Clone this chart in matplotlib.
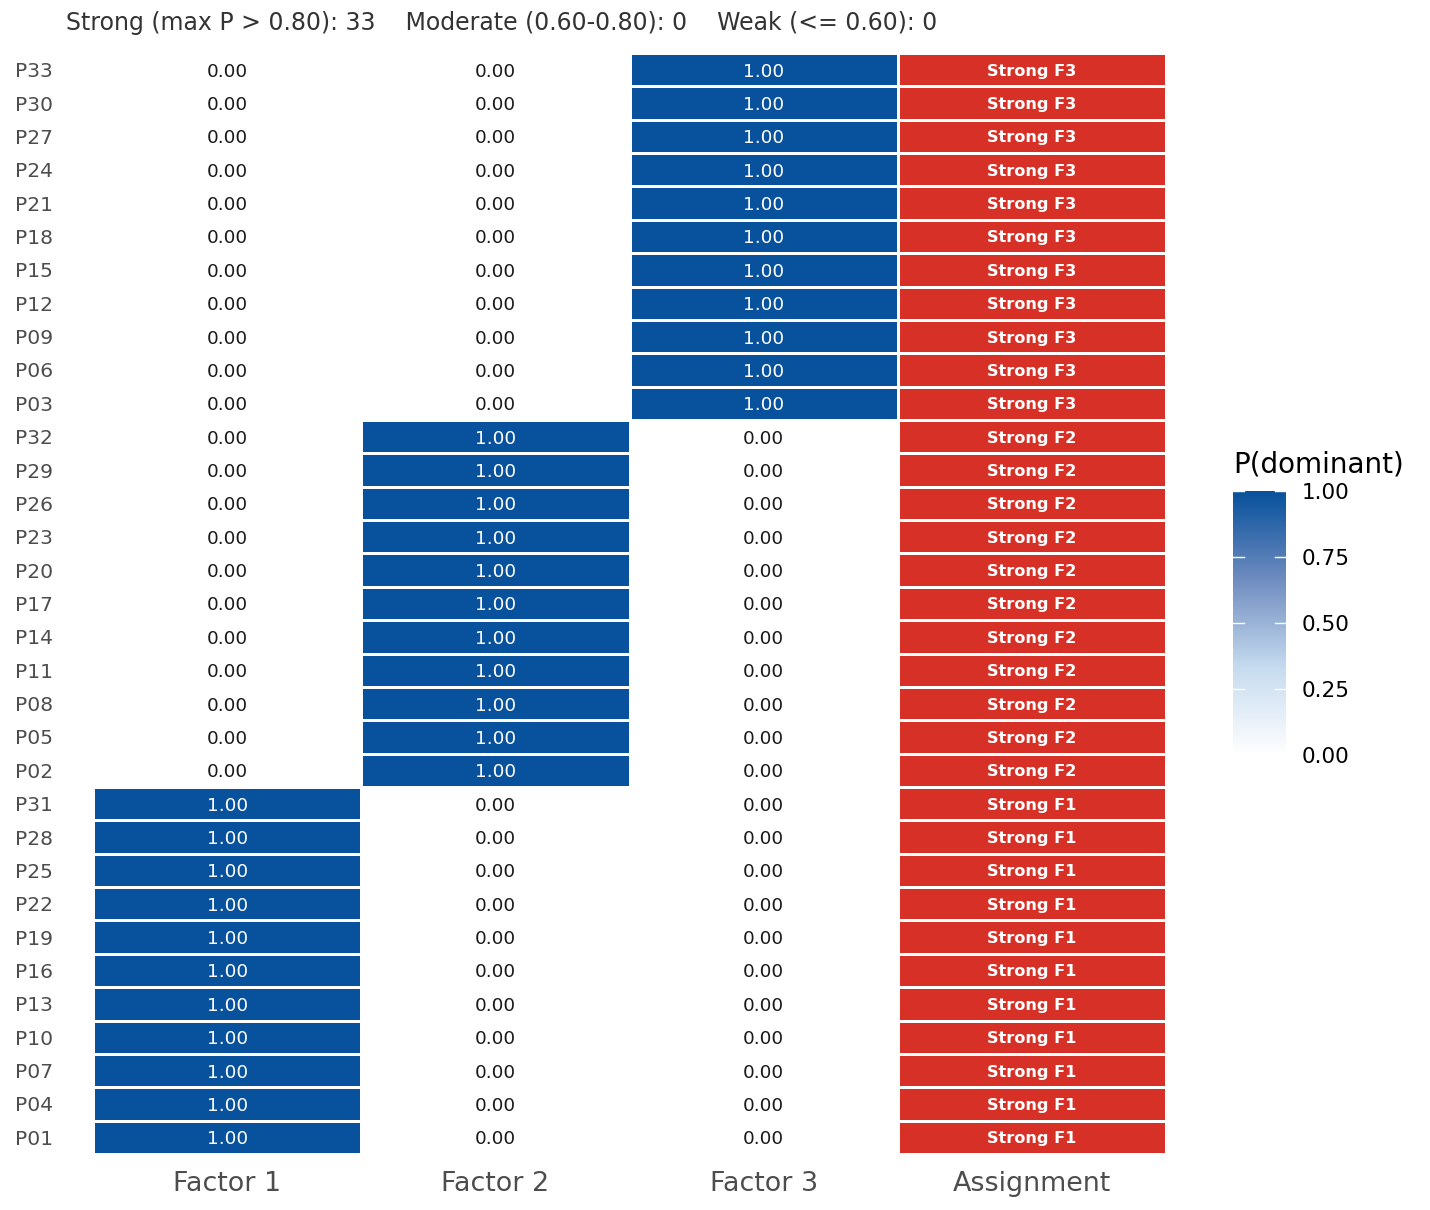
import numpy as np
import matplotlib
matplotlib.use('Agg')
from matplotlib import pyplot as plt
from matplotlib.colors import LinearSegmentedColormap, ListedColormap

# participantes de abajo hacia arriba
participantes = ['P01', 'P04', 'P07', 'P10', 'P13', 'P16', 'P19', 'P22', 'P25', 'P28', 'P31',
                 'P02', 'P05', 'P08', 'P11', 'P14', 'P17', 'P20', 'P23', 'P26', 'P29', 'P32',
                 'P03', 'P06', 'P09', 'P12', 'P15', 'P18', 'P21', 'P24', 'P27', 'P30', 'P33']
columnas = ['Factor 1', 'Factor 2', 'Factor 3', 'Assignment']
factor_1 = [1.0] * 11 + [0.0] * 11 + [0.0] * 11
factor_2 = [0.0] * 11 + [1.0] * 11 + [0.0] * 11
factor_3 = [0.0] * 11 + [0.0] * 11 + [1.0] * 11
asignacion = ['Strong F1'] * 11 + ['Strong F2'] * 11 + ['Strong F3'] * 11
subtitulo = 'Strong (max P > 0.80): 33    Moderate (0.60-0.80): 0    Weak (<= 0.60): 0'

AZUL = '#08519C'
ROJO = '#D73027'
GRIS = '#4D4D4D'

cmap = LinearSegmentedColormap.from_list('p', ['#FFFFFF', '#C6DBEF', '#6F8CC0', AZUL])

fig = plt.figure(figsize=(14.3, 12.1), dpi=100)
ax = fig.add_axes([93 / 1430, 1 - 1154 / 1210, (1166 - 93) / 1430, (1154 - 53) / 1210])

n = len(participantes)
matriz = np.column_stack([factor_1, factor_2, factor_3])
ax.pcolormesh(np.arange(4), np.arange(n + 1), matriz, cmap=cmap, vmin=0, vmax=1,
              edgecolors='white', linewidth=2)
ax.pcolormesh([3, 4], np.arange(n + 1), np.zeros((n, 1)), cmap=ListedColormap([ROJO]),
              edgecolors='white', linewidth=2)

for i in range(n):
    for j, v in enumerate(matriz[i]):
        ax.text(j + 0.5, i + 0.5, '%.2f' % v, ha='center', va='center_baseline', fontsize=13.3,
                color='white' if v > 0.5 else '#1A1A1A')
    ax.text(3.5, i + 0.5, asignacion[i], ha='center', va='center_baseline', fontsize=11.6,
            fontweight='bold', color='white')

ax.set_xlim(0, 4)
ax.set_ylim(0, n)
ax.set_xticks(np.arange(4) + 0.5)
ax.set_xticklabels(columnas, fontsize=19.4, color=GRIS)
ax.set_yticks(np.arange(n) + 0.5)
ax.set_yticklabels(participantes, fontsize=14.6, color=GRIS, va='center_baseline')
ax.tick_params(axis='x', length=0, pad=12)
ax.tick_params(axis='y', length=0, pad=29)
for s in ax.spines.values():
    s.set_visible(False)

# barra de color
cax = fig.add_axes([1233 / 1430, 1 - 755 / 1210, 53 / 1430, (755 - 491) / 1210])
grad = np.linspace(0, 1, 256).reshape(-1, 1)
cax.imshow(grad, aspect='auto', cmap=cmap, origin='lower', extent=[0, 1, 0, 1])
for t in [0.25, 0.5, 0.75, 1.0]:
    cax.plot([0, 0.2], [t, t], color='white', lw=1)
    cax.plot([0.8, 1], [t, t], color='white', lw=1)
cax.set_xlim(0, 1)
cax.set_ylim(0, 1)
cax.set_xticks([])
cax.yaxis.tick_right()
cax.set_yticks([0, 0.25, 0.5, 0.75, 1.0])
cax.set_yticklabels(['0.00', '0.25', '0.50', '0.75', '1.00'], fontsize=15.5, color='black')
cax.tick_params(length=0, pad=11)
for s in cax.spines.values():
    s.set_visible(False)
fig.text(1233 / 1430, 1 - 465 / 1210, 'P(dominant)', fontsize=20, color='black',
         ha='left', va='center')

fig.text(66 / 1430, 1 - 23 / 1210, subtitulo, fontsize=17, color='#333333',
         ha='left', va='center')

fig.savefig('out.png', dpi=100)
